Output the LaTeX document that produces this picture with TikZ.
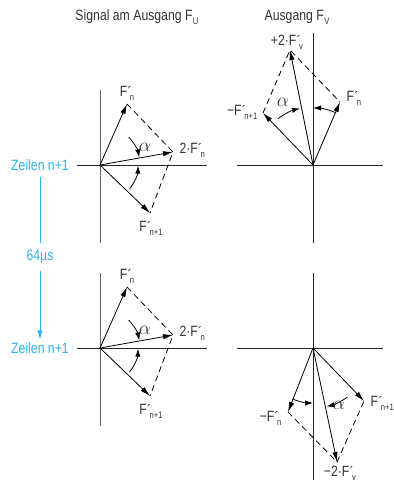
\documentclass[tikz,border=0pt]{standalone}
\usepackage{fontspec}
\setmainfont{Liberation Sans}[FakeStretch=0.82]
\usepackage{tikz}
\usepackage{xcolor}
\usetikzlibrary{arrows.meta}

\definecolor{zeilenblau}{HTML}{2BB3EE}
\definecolor{schrift}{HTML}{333333}
\newcommand{\Fpr}[1]{F\kern0.2pt\raisebox{-0.15ex}{´}\kern-1.2pt\raisebox{-0.5ex}{\scriptsize#1}}
\newcommand{\Fsub}[1]{F\kern0.3pt\raisebox{-0.5ex}{\scriptsize#1}}

\tikzset{
  achse/.style={line width=0.6pt,black!85},
  achsegrau/.style={line width=0.6pt,black!60},
  zeiger/.style={line width=0.6pt,-{Latex[length=7.5pt,width=4pt]}},
  ergaenzung/.style={line width=0.6pt,dash pattern=on 4.5pt off 3pt},
  winkel/.style={line width=0.6pt,-{Latex[length=6pt,width=4pt]}},
  beschr/.style={text=schrift,inner sep=1pt,font=\fontsize{11.2}{13}\selectfont},
  blau/.style={text=zeilenblau,inner sep=1pt,font=\fontsize{11.2}{13}\selectfont},
  alpha/.style={text=schrift,inner sep=1pt,font=\fontsize{14}{14}\selectfont},
}

\begin{document}
\begin{tikzpicture}[x=0.75pt,y=0.75pt]
\useasboundingbox (0,0) rectangle (393,-482);

\node[beschr] (titelU) at (137,-17) {Signal am Ausgang \Fsub{U}};
\node[beschr] (titelV) at (297,-17) {Ausgang \Fsub{V}};

\coordinate (o1) at (100,-165);
\coordinate (o1n) at (100,-90);
\coordinate (o1s) at (100,-243);
\coordinate (o1w) at (77,-165);
\coordinate (o1e) at (207,-165);
\draw[achsegrau] (o1n) -- (o1s);
\draw[achse] (o1w) -- (o1e);
\coordinate (a1) at (127,-104);
\coordinate (b1) at (173,-152);
\coordinate (c1) at (150,-213);
\draw[zeiger] (o1) -- (a1);
\draw[zeiger] (o1) -- (b1);
\draw[zeiger] (o1) -- (c1);
\draw[ergaenzung] (a1) -- (b1) -- (c1);
\draw[winkel] ([shift={(44:40)}]o1) arc (44:11:40);
\draw[winkel] ([shift={(-39:38)}]o1) arc (-39:-1:38);
\node[beschr] (la1) at (127,-93) {\Fpr{n}};
\node[beschr,anchor=west] (lb1) at (178,-150) {2·\Fpr{n}};
\node[beschr] (lc1) at (151,-228) {\Fpr{n+1}};
\node[alpha] (al1) at (145,-147) {$\alpha$};

\begin{scope}[shift={(0,-183)}]
\coordinate (o2) at (100,-165);
\coordinate (o2n) at (100,-90);
\coordinate (o2s) at (100,-243);
\coordinate (o2w) at (77,-165);
\coordinate (o2e) at (207,-165);
\draw[achsegrau] (o2n) -- (o2s);
\draw[achse] (o2w) -- (o2e);
\coordinate (a2) at (127,-104);
\coordinate (b2) at (173,-152);
\coordinate (c2) at (150,-213);
\draw[zeiger] (o2) -- (a2);
\draw[zeiger] (o2) -- (b2);
\draw[zeiger] (o2) -- (c2);
\draw[ergaenzung] (a2) -- (b2) -- (c2);
\draw[winkel] ([shift={(44:40)}]o2) arc (44:11:40);
\draw[winkel] ([shift={(-39:38)}]o2) arc (-39:-1:38);
\node[beschr] (la2) at (127,-93) {\Fpr{n}};
\node[beschr,anchor=west] (lb2) at (178,-150) {2·\Fpr{n}};
\node[beschr] (lc2) at (151,-228) {\Fpr{n+1}};
\node[alpha] (al2) at (145,-147) {$\alpha$};
\end{scope}

\coordinate (o3) at (313,-165);
\coordinate (o3n) at (313,-33);
\coordinate (o3s) at (313,-243);
\coordinate (o3w) at (237,-165);
\coordinate (o3e) at (383,-165);
\draw[achse] (o3n) -- (o3s);
\draw[achse] (o3w) -- (o3e);
\coordinate (v3) at (290,-50);
\coordinate (n3) at (340,-102);
\coordinate (m3) at (263,-113);
\draw[zeiger] (o3) -- (v3);
\draw[zeiger] (o3) -- (n3);
\draw[zeiger] (o3) -- (m3);
\draw[ergaenzung] (m3) -- (v3) -- (n3);
\draw[winkel] ([shift={(127:58)}]o3) arc (127:103:58);
\draw[winkel] ([shift={(66:57)}]o3) arc (66:90:57);
\node[beschr] (lv3) at (287,-42) {+2·\Fpr{v}};
\node[beschr,anchor=west] (ln3) at (345,-98) {\Fpr{n}};
\node[beschr,anchor=east] (lm3) at (259,-112) {−\Fpr{n+1}};
\node[alpha] (al3) at (283,-102) {$\alpha$};

\coordinate (o4) at (313,-348);
\coordinate (o4n) at (313,-273);
\coordinate (o4s) at (313,-480);
\coordinate (o4w) at (237,-348);
\coordinate (o4e) at (383,-348);
\draw[achse] (o4n) -- (o4s);
\draw[achse] (o4w) -- (o4e);
\coordinate (n4) at (288,-412);
\coordinate (m4) at (364,-401);
\coordinate (v4) at (337,-462);
\draw[zeiger] (o4) -- (n4);
\draw[zeiger] (o4) -- (m4);
\draw[zeiger] (o4) -- (v4);
\draw[ergaenzung] (n4) -- (v4) -- (m4);
\draw[winkel] ([shift={(-112:55)}]o4) arc (-112:-90:55);
\draw[winkel] ([shift={(-55:60)}]o4) arc (-55:-77:60);
\node[beschr,anchor=east] (ln4) at (283,-418) {−\Fpr{n}};
\node[beschr,anchor=west] (lm4) at (369,-403) {\Fpr{n+1}};
\node[beschr] (lv4) at (340,-473) {−2·\Fpr{v}};
\node[alpha] (al4) at (339,-405) {$\alpha$};

\node[blau] (z1) at (40,-165) {Zeilen n+1};
\node[blau] (t64) at (40,-257) {64µs};
\node[blau] (z2) at (40,-348) {Zeilen n+1};
\draw[zeilenblau,line width=0.7pt,shorten <=4pt,shorten >=4pt] (z1.south) -- (t64.north);
\draw[zeilenblau,line width=0.7pt,shorten <=4pt,shorten >=1pt,-{Latex[length=7pt,width=4pt]}] (t64.south) -- (z2.north);
\end{tikzpicture}
\end{document}
